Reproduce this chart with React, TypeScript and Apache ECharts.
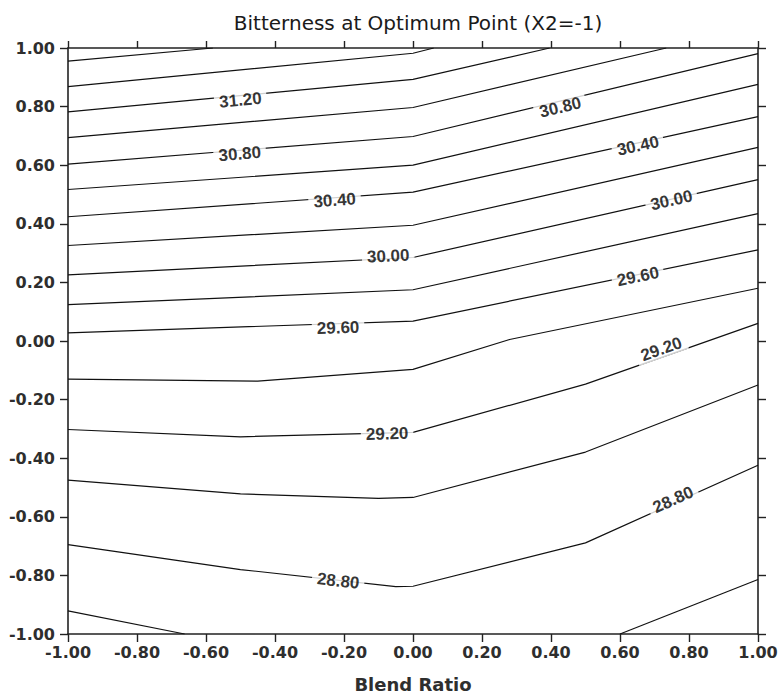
import React, { useEffect, useRef } from "react";
import * as echarts from "echarts";

// Contour lines of Bitterness (level in name), as [Blend Ratio, Y] points
const c3160 = [[-1, 0.955], [-0.58, 1]];
const c3140 = [[-1, 0.868], [0, 0.982], [0.06, 1]];
const c3120 = [[-1, 0.782], [0, 0.893], [0.396, 1]];
const c3100 = [[-1, 0.694], [0, 0.797], [0.734, 1]];
const c3080 = [[-1, 0.604], [0, 0.698], [1, 0.981]];
const c3060 = [[-1, 0.517], [0, 0.6], [1, 0.876]];
const c3040 = [[-1, 0.424], [0, 0.508], [1, 0.766]];
const c3020 = [[-1, 0.326], [0, 0.395], [1, 0.661]];
const c3000 = [[-1, 0.226], [0, 0.285], [1, 0.551]];
const c2980 = [[-1, 0.124], [0, 0.175], [1, 0.435]];
const c2960 = [[-1, 0.028], [0, 0.068], [1, 0.311]];
const c2940 = [[-1, -0.13], [-0.45, -0.137], [0, -0.097], [0.28, 0.005], [1, 0.18]];
const c2920 = [[-1, -0.302], [-0.5, -0.327], [0, -0.312], [0.5, -0.147], [1, 0.06]];
const c2900 = [[-1, -0.475], [-0.5, -0.522], [-0.1, -0.537], [0, -0.534], [0.5, -0.379], [1, -0.15]];
const c2880 = [[-1, -0.695], [-0.5, -0.78], [-0.05, -0.838], [0, -0.837], [0.5, -0.689], [1, -0.424]];
const c2860a = [[-1, -0.921], [-0.662, -1]];
const c2860b = [[0.6, -1], [1, -0.814]];

const contours = [c3160, c3140, c3120, c3100, c3080, c3060, c3040, c3020, c3000, c2980, c2960, c2940, c2920, c2900, c2880, c2860a, c2860b];

// Contour labels
const labelText = ["31.20", "30.80", "30.40", "30.00", "29.60", "29.20", "28.80", "30.80", "30.40", "30.00", "29.60", "29.20", "28.80"];
const labelX = [-0.5, -0.502, -0.227, -0.072, -0.217, -0.075, -0.217, 0.427, 0.652, 0.749, 0.652, 0.72, 0.754];
const labelY = [0.822, 0.638, 0.48, 0.29, 0.045, -0.317, -0.819, 0.797, 0.666, 0.48, 0.22, -0.028, -0.542];
const labelOn = [c3120, c3080, c3040, c3000, c2960, c2920, c2880, c3080, c3040, c3000, c2960, c2920, c2880];

const W = 782;
const H = 698;
const G = { left: 68, right: 24, top: 48, bottom: 58 };
const pxPerX = (W - G.left - G.right) / 2;
const pxPerY = (H - G.top - G.bottom) / 2;

function angleOn(pts: number[][], x: number): number {
  for (let i = 0; i < pts.length - 1; i++) {
    const [x0, y0] = pts[i];
    const [x1, y1] = pts[i + 1];
    if (x >= x0 && x <= x1) {
      return (Math.atan2((y1 - y0) * pxPerY, (x1 - x0) * pxPerX) * 180) / Math.PI;
    }
  }
  return 0;
}

const fmt = (v: number) => (Math.abs(v) < 1e-9 ? 0 : v).toFixed(2);

export default function App() {
  const ref = useRef<HTMLDivElement>(null);
  useEffect(() => {
    const chart = echarts.init(ref.current!, null, { renderer: "svg" });
    const axisLine = { show: true, onZero: false, lineStyle: { color: "#222", width: 1.6 } };
    const tickStyle = { color: "#222", width: 1.4 };
    const labelFont = { fontFamily: "DejaVu Sans", fontWeight: "bold" as const, fontSize: 16, color: "#2e2e2e" };

    const lineSeries = contours.map((pts) => ({
      type: "line",
      data: pts,
      xAxisIndex: 0,
      yAxisIndex: 0,
      showSymbol: false,
      symbol: "none",
      silent: true,
      lineStyle: { color: "#111", width: 1.2 },
      z: 2,
    }));

    const labelData = labelText.map((t, i) => ({
      value: [labelX[i], labelY[i]],
      name: t,
      label: { rotate: angleOn(labelOn[i], labelX[i]) },
    }));

    chart.setOption({
      animation: false,
      backgroundColor: "#fff",
      title: {
        text: "Bitterness at Optimum Point (X2=-1)",
        left: 413,
        top: 8,
        textAlign: "center",
        textStyle: { fontFamily: "DejaVu Sans", fontWeight: "normal", fontSize: 20, color: "#1a1a1a" },
      },
      grid: { ...G },
      xAxis: [
        {
          type: "value",
          min: -1,
          max: 1,
          interval: 0.2,
          position: "bottom",
          axisLine,
          axisTick: { show: true, inside: false, length: 8, lineStyle: tickStyle },
          axisLabel: { ...labelFont, margin: 10, formatter: fmt },
          splitLine: { show: false },
          name: "Blend Ratio",
          nameLocation: "middle",
          nameGap: 41,
          nameTextStyle: { fontFamily: "DejaVu Sans", fontWeight: "bold", fontSize: 18, color: "#2e2e2e" },
        },
        {
          type: "value",
          min: -1,
          max: 1,
          interval: 0.2,
          position: "top",
          axisLine,
          axisTick: { show: true, inside: false, length: 7, lineStyle: tickStyle },
          axisLabel: { show: false },
          splitLine: { show: false },
        },
      ],
      yAxis: [
        {
          type: "value",
          min: -1,
          max: 1,
          interval: 0.2,
          position: "left",
          axisLine,
          axisTick: { show: true, inside: false, length: 8, lineStyle: tickStyle },
          axisLabel: { ...labelFont, margin: 13, formatter: fmt },
          splitLine: { show: false },
        },
        {
          type: "value",
          min: -1,
          max: 1,
          interval: 0.2,
          position: "right",
          axisLine,
          axisTick: { show: true, inside: false, length: 8, lineStyle: tickStyle },
          axisLabel: { show: false },
          splitLine: { show: false },
        },
      ],
      series: [
        ...lineSeries,
        {
          type: "scatter",
          xAxisIndex: 0,
          yAxisIndex: 0,
          data: labelData,
          symbol: "circle",
          symbolSize: 1,
          silent: true,
          itemStyle: { color: "rgba(0,0,0,0)" },
          z: 5,
          label: {
            show: true,
            position: "inside",
            formatter: "{b}",
            fontFamily: "Liberation Sans",
            fontWeight: "bold",
            fontSize: 17,
            color: "#000",
            backgroundColor: "#fff",
            padding: [0, 5],
          },
        },
      ],
    });
    return () => chart.dispose();
  }, []);
  return (
    <div
      ref={ref}
      style={{ position: "fixed", left: 0, top: 0, width: W, height: H, background: "#fff" }}
    />
  );
}
